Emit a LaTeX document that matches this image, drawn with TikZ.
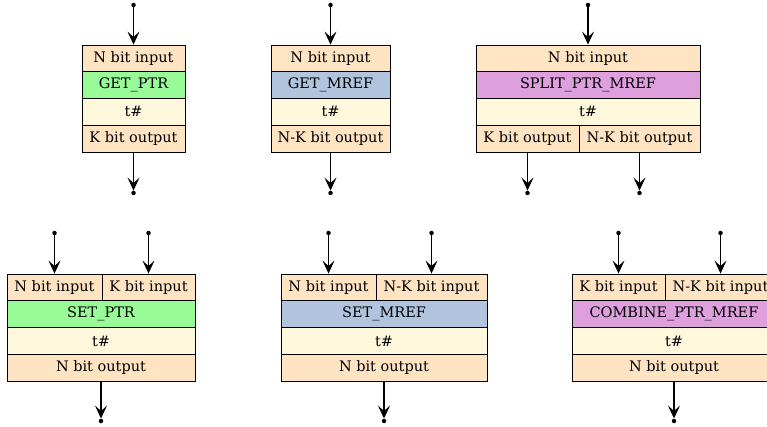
\documentclass[tikz,border=0pt]{standalone}
\usepackage{fontspec}
\setmainfont{DejaVu Serif}
\usetikzlibrary{arrows.meta}
\definecolor{bisque}{HTML}{FFE4C4}
\definecolor{palegreen}{HTML}{98FB98}
\definecolor{lsblue}{HTML}{B0C4DE}
\definecolor{plumc}{HTML}{DDA0DD}
\definecolor{cornsilk}{HTML}{FFF8DC}
\tikzset{
  cell/.style={draw=black, line width=0.9pt, rectangle, inner sep=0pt, minimum height=26.75pt,
    font=\fontsize{14.5}{17}\selectfont, anchor=center},
  dotpt/.style={circle, fill=black, inner sep=0pt, minimum size=4.5pt},
  wire/.style={line width=1.1pt, -{Stealth[length=13pt, width=12pt, inset=5.5pt]}}
}
\begin{document}
\begin{tikzpicture}[x=1pt, y=-1pt]
\clip (0,0) rectangle (767,427);
% ---------- GET_PTR
\node[cell, fill=bisque, minimum width=103pt] (a1) at (133.5,58.4) {N bit input};
\node[cell, fill=palegreen, minimum width=103pt] (a2) at (133.5,85.1) {GET\_PTR};
\node[cell, fill=cornsilk, minimum width=103pt] (a3) at (133.5,111.9) {t\#};
\node[cell, fill=bisque, minimum width=103pt] (a4) at (133.5,138.6) {K bit output};
\node[dotpt] (ai) at (133.5,5) {};
\node[dotpt] (ao) at (133.5,193) {};
\draw[wire] (ai) -- (a1);
\draw[wire] (a4) -- (ao);
% ---------- GET_MREF
\node[cell, fill=bisque, minimum width=119pt] (b1) at (330.5,58.4) {N bit input};
\node[cell, fill=lsblue, minimum width=119pt] (b2) at (330.5,85.1) {GET\_MREF};
\node[cell, fill=cornsilk, minimum width=119pt] (b3) at (330.5,111.9) {t\#};
\node[cell, fill=bisque, minimum width=119pt] (b4) at (330.5,138.6) {N-K bit output};
\node[dotpt] (bi) at (330.5,5) {};
\node[dotpt] (bo) at (330.5,193) {};
\draw[wire] (bi) -- (b1);
\draw[wire] (b4) -- (bo);
% ---------- SPLIT_PTR_MREF
\node[cell, fill=bisque, minimum width=224pt] (c1) at (588,58.4) {N bit input};
\node[cell, fill=plumc, minimum width=224pt] (c2) at (588,85.1) {SPLIT\_PTR\_MREF};
\node[cell, fill=cornsilk, minimum width=224pt] (c3) at (588,111.9) {t\#};
\node[cell, fill=bisque, minimum width=103pt] (c4) at (527.5,138.6) {K bit output};
\node[cell, fill=bisque, minimum width=121pt] (c5) at (639.5,138.6) {N-K bit output};
\node[dotpt] (ci) at (588,5) {};
\node[dotpt] (co1) at (527.5,193) {};
\node[dotpt] (co2) at (639.5,193) {};
\draw[wire] (ci) -- (c1);
\draw[wire] (c4) -- (co1);
\draw[wire] (c5) -- (co2);
% ---------- SET_PTR
\node[cell, fill=bisque, minimum width=95pt] (d1) at (54.5,287.4) {N bit input};
\node[cell, fill=bisque, minimum width=93pt] (d5) at (148.5,287.4) {K bit input};
\node[cell, fill=palegreen, minimum width=188pt] (d2) at (101,314.1) {SET\_PTR};
\node[cell, fill=cornsilk, minimum width=188pt] (d3) at (101,340.9) {t\#};
\node[cell, fill=bisque, minimum width=188pt] (d4) at (101,367.6) {N bit output};
\node[dotpt] (di1) at (54.5,233) {};
\node[dotpt] (di2) at (148.5,233) {};
\node[dotpt] (do) at (101,421) {};
\draw[wire] (di1) -- (d1);
\draw[wire] (di2) -- (d5);
\draw[wire] (d4) -- (do);
% ---------- SET_MREF
\node[cell, fill=bisque, minimum width=95pt] (e1) at (328.5,287.4) {N bit input};
\node[cell, fill=bisque, minimum width=111pt] (e5) at (431.5,287.4) {N-K bit input};
\node[cell, fill=lsblue, minimum width=206pt] (e2) at (384,314.1) {SET\_MREF};
\node[cell, fill=cornsilk, minimum width=206pt] (e3) at (384,340.9) {t\#};
\node[cell, fill=bisque, minimum width=206pt] (e4) at (384,367.6) {N bit output};
\node[dotpt] (ei1) at (328.5,233) {};
\node[dotpt] (ei2) at (431.5,233) {};
\node[dotpt] (eo) at (384,421) {};
\draw[wire] (ei1) -- (e1);
\draw[wire] (ei2) -- (e5);
\draw[wire] (e4) -- (eo);
% ---------- COMBINE_PTR_MREF
\node[cell, fill=bisque, minimum width=93pt] (f1) at (618.5,287.4) {K bit input};
\node[cell, fill=bisque, minimum width=111pt] (f5) at (720.5,287.4) {N-K bit input};
\node[cell, fill=plumc, minimum width=204pt] (f2) at (674,314.1) {COMBINE\_PTR\_MREF};
\node[cell, fill=cornsilk, minimum width=204pt] (f3) at (674,340.9) {t\#};
\node[cell, fill=bisque, minimum width=204pt] (f4) at (674,367.6) {N bit output};
\node[dotpt] (fi1) at (618.5,233) {};
\node[dotpt] (fi2) at (720.5,233) {};
\node[dotpt] (fo) at (674,421) {};
\draw[wire] (fi1) -- (f1);
\draw[wire] (fi2) -- (f5);
\draw[wire] (f4) -- (fo);
\end{tikzpicture}
\end{document}
